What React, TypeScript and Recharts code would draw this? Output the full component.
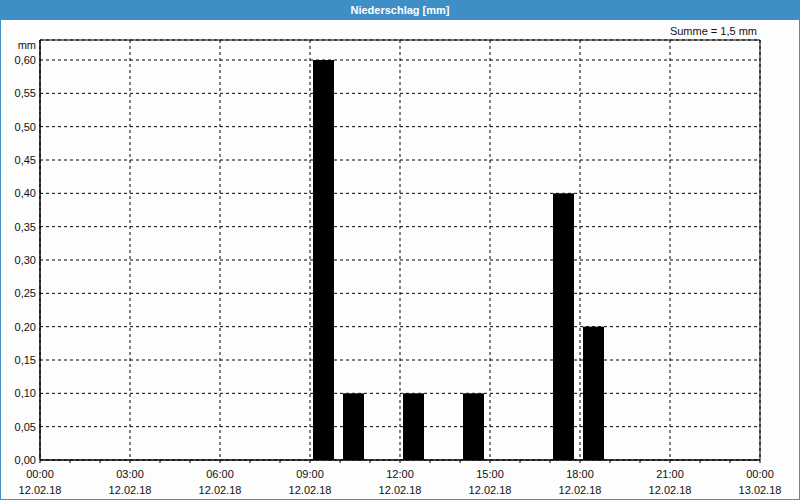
import { BarChart, Bar, XAxis, YAxis, CartesianGrid, ReferenceArea, Label } from 'recharts';

const hours = ['00', '01', '02', '03', '04', '05', '06', '07', '08', '09', '10', '11', '12', '13', '14', '15', '16', '17', '18', '19', '20', '21', '22', '23'];
const precip = [0, 0, 0, 0, 0, 0, 0, 0, 0, 0.6, 0.1, 0, 0.1, 0, 0.1, 0, 0, 0.4, 0.2, 0, 0, 0, 0, 0];
const timeLabels = ['00:00', '03:00', '06:00', '09:00', '12:00', '15:00', '18:00', '21:00', '00:00'];
const dateLabels = ['12.02.18', '12.02.18', '12.02.18', '12.02.18', '12.02.18', '12.02.18', '12.02.18', '12.02.18', '13.02.18'];
const yTicks = [0, 0.05, 0.1, 0.15, 0.2, 0.25, 0.3, 0.35, 0.4, 0.45, 0.5, 0.55, 0.6];

const BLUE = '#3d8fc6';
const FONT = '"Liberation Sans", Arial, sans-serif';

const data = hours.map((h, i) => ({ hour: h, t: i, mm: precip[i] }));
const hourTicks = Array.from({ length: 25 }, (_, i) => i);
const majorTicks = hourTicks.filter((h) => h % 3 === 0);
const total = precip.reduce((a, b) => a + b, 0);

const fmt = (v: number, d: number) => v.toFixed(d).replace('.', ',');

function TimeTick(props: any) {
  const { x, y, payload } = props;
  const h = payload.value as number;
  if (h % 3 !== 0) return null;
  const i = h / 3;
  return (
    <g transform={`translate(${x},${y})`}>
      <text textAnchor="middle" dy={15} fontSize={11} fill="#111" fontFamily={FONT}>
        {timeLabels[i]}
      </text>
      <text textAnchor="middle" dy={31} fontSize={11} fill="#111" fontFamily={FONT}>
        {dateLabels[i]}
      </text>
    </g>
  );
}

// bars sit a little left of the hour centre in the original
function OffsetBar(props: any) {
  const { x, y, width, height, fill } = props;
  if (!height) return null;
  return <rect x={x - 2} y={y} width={width} height={height} fill={fill} />;
}

export default function App() {
  return (
    <div
      style={{
        position: 'absolute',
        left: 0,
        top: 0,
        width: 800,
        height: 500,
        background: '#fcfdfc',
        fontFamily: FONT,
      }}
    >
      <BarChart width={800} height={500} data={data} margin={{ top: 40, right: 40, bottom: 0, left: 0 }}>
        <XAxis xAxisId="cat" dataKey="hour" type="category" orientation="top" hide />
        <XAxis xAxisId="grid" dataKey="t" type="number" domain={[0, 24]} ticks={majorTicks} orientation="top" hide />
        <XAxis
          xAxisId="time"
          dataKey="t"
          type="number"
          domain={[0, 24]}
          ticks={hourTicks}
          interval={0}
          height={40}
          tickSize={3}
          tickMargin={0}
          axisLine={{ stroke: '#000' }}
          tickLine={{ stroke: '#000' }}
          tick={<TimeTick />}
        />
        <YAxis
          domain={[0, 0.63]}
          ticks={yTicks}
          width={40}
          interval={0}
          tickSize={0}
          tickMargin={4}
          tickLine={false}
          axisLine={{ stroke: '#000' }}
          tick={{ fill: '#111', fontSize: 11, fontFamily: FONT }}
          tickFormatter={(v: number) => fmt(v, 2)}
        >
          <Label
            content={(p: any) => (
              <text
                x={p.viewBox.x + p.viewBox.width - 4}
                y={p.viewBox.y + 9}
                textAnchor="end"
                fontSize={11}
                fill="#111"
                fontFamily={FONT}
              >
                mm
              </text>
            )}
          />
        </YAxis>
        <CartesianGrid xAxisId="grid" stroke="#000" strokeDasharray="3 3" />
        <Bar xAxisId="cat" dataKey="mm" fill="#000" barSize={21} shape={<OffsetBar />} isAnimationActive={false} />
        <ReferenceArea xAxisId="time" x1={0} x2={24} y1={0} y2={0.63} fill="none" stroke="#000" strokeWidth={1} />
      </BarChart>
      <div
        style={{
          position: 'absolute',
          left: 0,
          top: 0,
          width: 800,
          height: 20,
          background: BLUE,
          color: '#fff',
          fontWeight: 'bold',
          fontSize: 11,
          lineHeight: '20px',
          textAlign: 'center',
        }}
      >
        Niederschlag [mm]
      </div>
      <div
        style={{
          position: 'absolute',
          right: 43,
          top: 24,
          fontSize: 11,
          lineHeight: '14px',
          color: '#111',
        }}
      >
        Summe = {fmt(total, 1)} mm
      </div>
      <div
        style={{
          position: 'absolute',
          left: 0,
          top: 0,
          width: 800,
          height: 500,
          boxSizing: 'border-box',
          border: `1px solid ${BLUE}`,
          pointerEvents: 'none',
        }}
      />
    </div>
  );
}
